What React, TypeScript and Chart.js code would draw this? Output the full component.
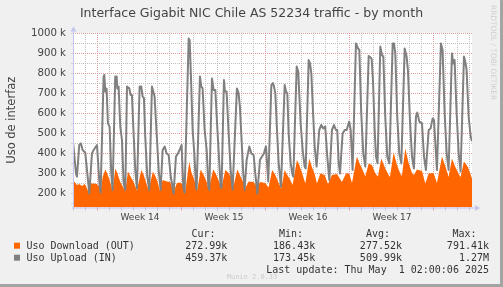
import React, { useEffect, useRef } from "react";
import { Chart, registerables } from "chart.js";

Chart.register(...registerables);

// ---- data (values in k) ----
const inDays = [
  -2.08, -1.83, -1.75, -1.56, -1.42, -1.28, -1.06, -0.86, -0.72, -0.5, -0.36, -0.08, 0.14, 0.22,
  0.47, 0.53, 0.61, 0.72, 0.83, 0.97, 1.11, 1.22,
  1.44, 1.56, 1.61, 1.72, 1.86, 2.0, 2.14, 2.28,
  2.42, 2.61, 2.72, 2.83, 2.97, 3.11, 3.25,
  3.47, 3.61, 3.72, 3.83, 3.94, 4.11, 4.28,
  4.5, 4.61, 4.72, 4.89, 5.06, 5.22,
  5.39, 5.56, 5.72, 5.89, 6.08, 6.17, 6.3,
  6.5, 6.67, 6.86, 6.97, 7.11, 7.22,
  7.56, 7.64, 7.75, 7.89, 8.03, 8.17, 8.22,
  8.5, 8.61, 8.72, 8.89, 9.06, 9.2, 9.28,
  9.5, 9.64, 9.78, 9.94, 10.08, 10.22, 10.3,
  10.5, 10.58, 10.72, 10.89, 11.06, 11.22,
  11.58, 11.72, 11.83, 11.94, 12.11, 12.22,
  12.39, 12.61, 12.78, 12.97, 13.11, 13.28,
  13.5, 13.67, 13.83, 14.0, 14.19,
  14.45, 14.58, 14.67, 14.78, 14.92, 15.06, 15.25,
  15.56, 15.67, 15.78, 15.89, 16.06, 16.22, 16.28,
  16.56, 16.69, 16.89, 17.06, 17.22, 17.31,
  17.56, 17.67, 17.78, 17.94, 18.06, 18.22,
  18.44, 18.61, 18.78, 18.94, 19.11, 19.28,
  19.5, 19.67, 19.83, 19.94, 20.06, 20.17,
  20.39, 20.56, 20.72, 20.94, 21.06, 21.22,
  21.5, 21.67, 21.78, 21.94, 22.11, 22.28,
  22.56, 22.69, 22.81, 22.92, 23.06, 23.17, 23.3,
  23.53, 23.67, 23.78, 23.94, 24.11, 24.28,
  24.56, 24.67, 24.78, 24.94, 25.11, 25.28,
  25.56, 25.72, 25.83, 26.0, 26.17, 26.33,
  26.5, 26.61, 26.78, 27.0, 27.17, 27.33,
  27.56, 27.72, 27.89, 28.0, 28.25,
  28.58, 28.72, 28.89, 29.06, 29.22,
  29.5, 29.61, 29.72, 29.89, 30.06, 30.22,
  30.5, 30.61, 30.72, 30.89, 31.06, 31.17,
];
const inValues = [
  457, 298, 282, 440, 448, 415, 402, 282, 198, 398, 415, 440, 232, 202,
  782, 790, 707, 722, 548, 532, 298, 215,
  782, 782, 723, 732, 532, 465, 248, 215,
  732, 723, 690, 690, 498, 315, 223,
  732, 732, 682, 675, 482, 282, 215,
  732, 707, 682, 498, 315, 215,
  415, 432, 398, 390, 275, 248, 198,
  382, 398, 423, 440, 232, 202,
  973, 965, 782, 515, 398, 232, 218,
  782, 732, 724, 515, 415, 232, 215,
  773, 715, 715, 532, 382, 232, 225,
  765, 707, 707, 498, 315, 218,
  723, 698, 632, 498, 298, 215,
  365, 432, 398, 390, 298, 198,
  365, 382, 398, 433, 258,
  740, 750, 732, 698, 515, 348, 232,
  740, 707, 698, 498, 348, 290, 282,
  832, 807, 548, 415, 332, 323,
  865, 848, 798, 582, 432, 332,
  515, 540, 523, 532, 382, 265,
  515, 540, 515, 515, 348, 298,
  498, 515, 515, 557, 515, 315,
  948, 923, 915, 598, 398, 332,
  885, 880, 870, 760, 515, 382, 348,
  932, 890, 882, 582, 382, 348,
  948, 948, 898, 582, 398, 348,
  923, 882, 815, 565, 382, 323,
  582, 602, 557, 548, 382, 315,
  515, 523, 573, 565, 315,
  948, 915, 598, 398, 315,
  898, 848, 865, 598, 398, 307,
  882, 857, 815, 582, 482, 459,
];

const outDays = [
  -2.08, -1.94, -1.75, -1.56, -1.33, -1.11, -0.92, -0.78, -0.61, -0.36, -0.08, 0.11, 0.22,
  0.39, 0.61, 0.75, 0.94, 1.11, 1.22, 1.44, 1.61, 1.86, 2.14, 2.28,
  2.5, 2.69, 2.97, 3.25, 3.61, 3.81, 4.0, 4.22, 4.58, 4.78, 5.0, 5.17,
  5.39, 5.75, 6.03, 6.3, 6.58, 6.86, 7.14, 7.28,
  7.61, 7.78, 8.0, 8.28, 8.56, 8.81, 9.06, 9.22, 9.61, 9.83, 10.06, 10.28,
  10.61, 10.89, 11.17, 11.3, 11.61, 11.86, 12.14, 12.28,
  12.56, 12.97, 13.25, 13.53, 13.94, 14.22,
  14.52, 14.78, 15.06, 15.28, 15.56, 15.78, 16.03, 16.22, 16.58, 16.78, 17.06, 17.28,
  17.61, 17.83, 18.06, 18.25, 18.53, 18.89, 19.17, 19.5, 19.92, 20.33, 20.67, 20.94, 21.17,
  21.58, 21.78, 22.06, 22.28, 22.56, 22.83, 23.11, 23.33, 23.61, 23.89, 24.17, 24.33,
  24.64, 24.92, 25.19, 25.33, 25.61, 25.89, 26.17, 26.33,
  26.58, 27.0, 27.28, 27.56, 27.97, 28.25,
  28.67, 28.94, 29.22, 29.5, 29.78, 30.11, 30.22, 30.5, 30.83, 31.17,
];
const outValues = [
  257, 255, 240, 245, 235, 245, 225, 200, 248, 248, 245, 230, 210,
  280, 318, 300, 270, 235, 208, 323, 300, 255, 225, 210,
  307, 285, 255, 212, 315, 290, 255, 215, 307, 285, 250, 210,
  265, 258, 255, 205, 250, 252, 238, 210,
  357, 305, 270, 215, 318, 290, 255, 218, 318, 295, 262, 222,
  315, 300, 270, 235, 318, 285, 250, 225,
  258, 255, 232, 255, 250, 228,
  315, 290, 250, 223, 315, 290, 265, 240, 365, 340, 290, 248,
  373, 330, 295, 248, 298, 290, 245, 290, 295, 255, 298, 298, 250,
  382, 350, 315, 282, 348, 340, 298, 282, 373, 330, 295, 280,
  402, 340, 298, 285, 423, 350, 300, 290,
  318, 310, 248, 298, 300, 250,
  382, 335, 280, 373, 330, 290, 280, 357, 330, 273,
];

// axis / grid definitions
const xMinDay = -2.08;
const xMaxDay = 31.17;
const weekStarts = [0, 7, 14, 21, 28];
const weekCenters = [3.5, 10.5, 17.5, 24.5];
const weekLabels = ["Week 14", "Week 15", "Week 16", "Week 17"];
const yGridK = [150, 200, 250, 300, 350, 400, 450, 500, 550, 600, 650, 700, 750, 800, 850, 900, 950, 1000];
const yMinK = 127.5;
const yMaxK = 1000;

// legend texts
const seriesNames = ["Uso Download (OUT)", "Uso Upload (IN)"];
const seriesColors = ["#ff6600", "#808080"];
const colHeaders = ["Cur:", "Min:", "Avg:", "Max:"];
const curVals = ["272.99k", "459.37k"];
const minVals = ["186.43k", "173.45k"];
const avgVals = ["277.52k", "509.99k"];
const maxVals = ["791.41k", "1.27M"];
const titleText = "Interface Gigabit NIC Chile AS 52234 traffic - by month";
const yAxisTitle = "Uso de interfaz";
const lastUpdate = "Last update: Thu May  1 02:00:06 2025";
const muninText = "Munin 2.0.33";
const rrdText = "RRDTOOL / TOBI OETIKER";

const BG = "#f0f0f0";
const AXIS = "#c4c4ec";
const TEXT = "#444444";
const RED_GRID = "rgba(228,150,150,0.95)";
const GRAY_GRID = "rgba(188,188,188,0.95)";

const decor = {
  id: "munin-decor",
  beforeDraw(chart: any) {
    const { ctx, chartArea: a, width, height } = chart;
    ctx.save();
    ctx.fillStyle = BG;
    ctx.fillRect(0, 0, width, height);
    ctx.fillStyle = "#ffffff";
    ctx.fillRect(a.left, a.top, a.right - a.left, a.bottom - a.top);
    ctx.fillStyle = "#a4a4a4";
    ctx.fillRect(width - 3, 0, 3, height);
    ctx.fillRect(0, height - 3, width, 3);
    ctx.restore();
  },
  afterDraw(chart: any) {
    const { ctx, chartArea: a, width } = chart;
    ctx.save();
    // axes with arrows
    ctx.strokeStyle = AXIS;
    ctx.fillStyle = AXIS;
    ctx.lineWidth = 1;
    ctx.beginPath();
    ctx.moveTo(a.left + 0.5, a.bottom + 1);
    ctx.lineTo(a.left + 0.5, a.top - 2);
    ctx.moveTo(a.left - 1, a.bottom + 0.5);
    ctx.lineTo(a.right + 3, a.bottom + 0.5);
    ctx.stroke();
    ctx.beginPath();
    ctx.moveTo(a.left + 0.5, a.top - 6.5);
    ctx.lineTo(a.left - 2.5, a.top - 1.5);
    ctx.lineTo(a.left + 3.5, a.top - 1.5);
    ctx.closePath();
    ctx.fill();
    ctx.beginPath();
    ctx.moveTo(a.right + 8, a.bottom + 0.5);
    ctx.lineTo(a.right + 3, a.bottom - 2.5);
    ctx.lineTo(a.right + 3, a.bottom + 3.5);
    ctx.closePath();
    ctx.fill();

    // title
    ctx.fillStyle = TEXT;
    ctx.font = '12.5px "DejaVu Sans"';
    ctx.textAlign = "center";
    ctx.textBaseline = "alphabetic";
    ctx.fillText(titleText, width / 2, 17.3);

    // y axis title
    ctx.save();
    ctx.font = '11.5px "DejaVu Sans"';
    ctx.translate(14.5, (a.top + a.bottom) / 2);
    ctx.rotate(-Math.PI / 2);
    ctx.fillText(yAxisTitle, 0, 0);
    ctx.restore();

    // watermark
    ctx.save();
    ctx.fillStyle = "#cfcfcf";
    ctx.font = '7.4px "DejaVu Sans"';
    ctx.textAlign = "left";
    ctx.translate(490.7, 5);
    ctx.rotate(Math.PI / 2);
    ctx.fillText(rrdText, 0, 0);
    ctx.restore();

    // legend
    ctx.fillStyle = "#333333";
    ctx.font = '10px "DejaVu Sans Mono"';
    ctx.textAlign = "left";
    const headerX = [191.5, 279, 366, 452.5];
    colHeaders.forEach((h, i) => ctx.fillText(h, headerX[i], 236.5));
    const rowY = [249, 261];
    const colEnds = [227.3, 315.2, 402, 489];
    const cols = [curVals, minVals, avgVals, maxVals];
    seriesNames.forEach((name, r) => {
      ctx.fillStyle = seriesColors[r];
      ctx.fillRect(14, rowY[r] - 6.3, 6, 6);
      ctx.fillStyle = "#333333";
      ctx.textAlign = "left";
      ctx.fillText(name, 26.5, rowY[r]);
      ctx.textAlign = "right";
      cols.forEach((c, ci) => ctx.fillText(c[r], colEnds[ci], rowY[r]));
    });
    ctx.textAlign = "right";
    ctx.fillText(lastUpdate, 489, 272.5);

    ctx.fillStyle = "#cccccc";
    ctx.font = '7px "DejaVu Sans Mono"';
    ctx.textAlign = "center";
    ctx.fillText(muninText, 252, 278.5);
    ctx.restore();
  },
};

export default function App() {
  const ref = useRef<HTMLCanvasElement | null>(null);

  useEffect(() => {
    document.body.style.margin = "0";
    const canvas = ref.current;
    if (!canvas) return;

    const inData = inDays.map((d, i) => ({ x: d, y: inValues[i] * 1000 }));
    const outData = outDays.map((d, i) => ({ x: d, y: outValues[i] * 1000 }));

    const dayTicks: number[] = [];
    for (let d = Math.ceil(xMinDay); d <= xMaxDay; d++) dayTicks.push(d);
    const xTickVals = [...dayTicks, ...weekCenters].sort((p, q) => p - q);

    const isWeekCenter = (v: number) => weekCenters.some((c) => Math.abs(c - v) < 1e-6);
    const isWeekStart = (v: number) => weekStarts.some((c) => Math.abs(c - v) < 1e-6);

    const chart = new Chart(canvas, {
      type: "line",
      data: {
        datasets: [
          {
            label: seriesNames[0],
            data: outData,
            borderColor: seriesColors[0],
            backgroundColor: seriesColors[0],
            borderWidth: 0,
            fill: "start",
            pointRadius: 0,
            tension: 0,
            order: 2,
          },
          {
            label: seriesNames[1],
            data: inData,
            borderColor: seriesColors[1],
            borderWidth: 2,
            borderJoinStyle: "round",
            fill: false,
            pointRadius: 0,
            tension: 0,
            order: 1,
          },
        ],
      },
      options: {
        animation: false,
        responsive: false,
        maintainAspectRatio: false,
        layout: { padding: { left: 0, right: 31, top: 33, bottom: 0 } },
        plugins: {
          legend: { display: false },
          tooltip: { enabled: false },
          title: { display: false },
        },
        scales: {
          x: {
            type: "linear",
            min: xMinDay,
            max: xMaxDay,
            afterBuildTicks: (s: any) => {
              s.ticks = xTickVals.map((v) => ({ value: v }));
            },
            afterFit: (s: any) => {
              s.height = 287 - 207.5;
            },
            border: { display: false, dash: [1, 1] },
            grid: {
              color: (c: any) => {
                const v = c.tick ? c.tick.value : 0;
                if (isWeekCenter(v)) return "rgba(0,0,0,0)";
                return isWeekStart(v) ? RED_GRID : GRAY_GRID;
              },
              tickColor: (c: any) => {
                const v = c.tick ? c.tick.value : 0;
                if (isWeekCenter(v)) return "rgba(0,0,0,0)";
                return isWeekStart(v) ? RED_GRID : "#c8c8c8";
              },
              lineWidth: 1,
              tickLength: 3,
              drawTicks: true,
            },
            ticks: {
              autoSkip: false,
              maxRotation: 0,
              minRotation: 0,
              padding: 2,
              color: TEXT,
              font: { family: "DejaVu Sans", size: 9 },
              callback: (v: any) => {
                const idx = weekCenters.findIndex((c) => Math.abs(c - Number(v)) < 1e-6);
                return idx >= 0 ? weekLabels[idx] : "";
              },
            },
          },
          y: {
            type: "linear",
            min: yMinK * 1000,
            max: yMaxK * 1000,
            afterBuildTicks: (s: any) => {
              s.ticks = yGridK.map((v) => ({ value: v * 1000 }));
            },
            afterFit: (s: any) => {
              s.width = 73;
            },
            border: { display: false, dash: [1, 1] },
            grid: {
              color: (c: any) => {
                const v = c.tick ? c.tick.value : 0;
                return v % 100000 === 0 ? RED_GRID : GRAY_GRID;
              },
              tickColor: "#d0d0d8",
              lineWidth: 1,
              tickLength: 2,
              drawTicks: true,
            },
            ticks: {
              autoSkip: false,
              padding: 5,
              color: TEXT,
              font: { family: "DejaVu Sans", size: 10.2 },
              callback: (v: any) => (Number(v) % 100000 === 0 ? `${Number(v) / 1000} k` : ""),
            },
          },
        },
      },
      plugins: [decor],
    });

    return () => chart.destroy();
  }, []);

  return <canvas ref={ref} width={503} height={287} style={{ display: "block" }} />;
}
